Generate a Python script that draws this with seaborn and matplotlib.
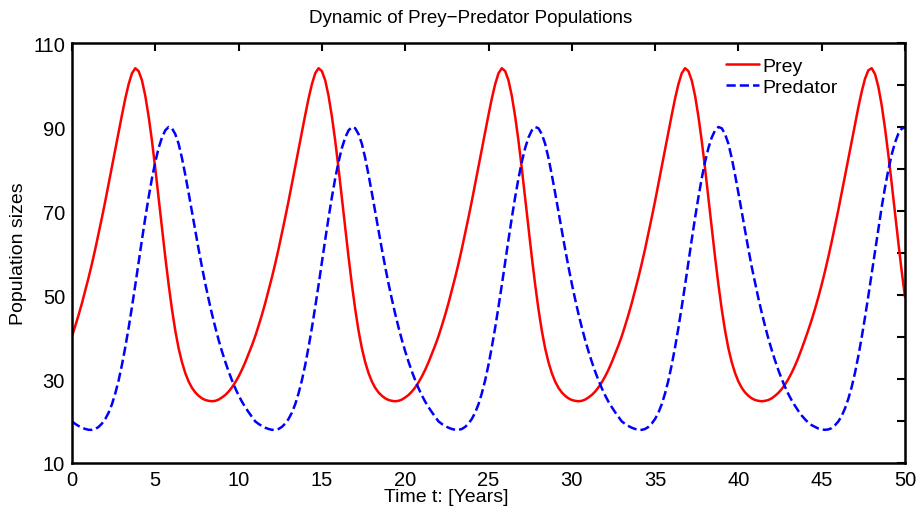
import numpy as np
import pandas as pd
import matplotlib
matplotlib.use("Agg")
import matplotlib.pyplot as plt
import seaborn as sns

# ---- data (t = 0 .. 50 years, step 0.2) ----
years = np.linspace(0, 50, 251)

prey = [
    # cycle 1 (t 0.0 - 10.8)
    40.2, 42.7, 45.3, 48.1, 51.1, 54.2, 57.5, 61.0, 64.7, 68.5,
    72.4, 76.5, 80.6, 84.7, 88.8, 92.9, 96.8, 100.2, 102.8, 104.0,
    103.3, 101.1, 97.4, 92.5, 86.7, 80.1, 73.1, 66.0, 59.0, 52.5,
    46.6, 41.5, 37.3, 34.0, 31.4, 29.4, 27.9, 26.8, 26.0, 25.4,
    25.0, 24.8, 24.7, 24.8, 25.1, 25.6, 26.2, 27.0, 28.0, 29.2,
    30.6, 32.2, 34.0, 36.0, 38.0,
    # cycle 2 (t 11.0 - 21.8)
    40.2, 42.7, 45.3, 48.1, 51.1, 54.2, 57.5, 61.0, 64.7, 68.5,
    72.4, 76.5, 80.6, 84.7, 88.8, 92.9, 96.8, 100.2, 102.8, 104.0,
    103.3, 101.1, 97.4, 92.5, 86.7, 80.1, 73.1, 66.0, 59.0, 52.5,
    46.6, 41.5, 37.3, 34.0, 31.4, 29.4, 27.9, 26.8, 26.0, 25.4,
    25.0, 24.8, 24.7, 24.8, 25.1, 25.6, 26.2, 27.0, 28.0, 29.2,
    30.6, 32.2, 34.0, 36.0, 38.0,
    # cycle 3 (t 22.0 - 32.8)
    40.2, 42.7, 45.3, 48.1, 51.1, 54.2, 57.5, 61.0, 64.7, 68.5,
    72.4, 76.5, 80.6, 84.7, 88.8, 92.9, 96.8, 100.2, 102.8, 104.0,
    103.3, 101.1, 97.4, 92.5, 86.7, 80.1, 73.1, 66.0, 59.0, 52.5,
    46.6, 41.5, 37.3, 34.0, 31.4, 29.4, 27.9, 26.8, 26.0, 25.4,
    25.0, 24.8, 24.7, 24.8, 25.1, 25.6, 26.2, 27.0, 28.0, 29.2,
    30.6, 32.2, 34.0, 36.0, 38.0,
    # cycle 4 (t 33.0 - 43.8)
    40.2, 42.7, 45.3, 48.1, 51.1, 54.2, 57.5, 61.0, 64.7, 68.5,
    72.4, 76.5, 80.6, 84.7, 88.8, 92.9, 96.8, 100.2, 102.8, 104.0,
    103.3, 101.1, 97.4, 92.5, 86.7, 80.1, 73.1, 66.0, 59.0, 52.5,
    46.6, 41.5, 37.3, 34.0, 31.4, 29.4, 27.9, 26.8, 26.0, 25.4,
    25.0, 24.8, 24.7, 24.8, 25.0, 25.4, 26.0, 26.7, 27.6, 28.7,
    30.0, 31.5, 33.2, 35.1, 37.2,
    # cycle 5 (t 44.0 - 50.0)
    39.4, 41.7, 44.1, 46.7, 49.5, 52.5, 55.7, 59.1, 62.7, 66.5,
    70.3, 74.3, 78.4, 82.5, 86.6, 90.7, 94.7, 98.4, 101.5, 103.5,
    104.0, 102.6, 99.6, 95.2, 89.7, 83.4, 76.6, 69.5, 62.5, 55.7,
    49.5,
]

predator = [
    # cycle 1
    19.9, 19.3, 18.8, 18.4, 18.1, 17.9, 17.9, 18.1, 18.6, 19.4,
    20.5, 22.0, 24.0, 26.6, 29.7, 33.4, 37.6, 42.2, 47.2, 52.4,
    57.8, 63.2, 68.4, 73.3, 77.8, 81.7, 85.0, 87.5, 89.2, 90.0,
    89.7, 88.3, 86.0, 82.6, 78.6, 74.3, 69.8, 65.3, 60.9, 56.7,
    52.7, 49.0, 45.5, 42.3, 39.3, 36.6, 34.1, 31.8, 29.7, 27.8,
    26.1, 24.6, 23.3, 22.1, 21.0,
    # cycle 2
    19.9, 19.3, 18.8, 18.4, 18.1, 17.9, 17.9, 18.1, 18.6, 19.4,
    20.5, 22.0, 24.0, 26.6, 29.7, 33.4, 37.6, 42.2, 47.2, 52.4,
    57.8, 63.2, 68.4, 73.3, 77.8, 81.7, 85.0, 87.5, 89.2, 90.0,
    89.7, 88.3, 86.0, 82.6, 78.6, 74.3, 69.8, 65.3, 60.9, 56.7,
    52.7, 49.0, 45.5, 42.3, 39.3, 36.6, 34.1, 31.8, 29.7, 27.8,
    26.1, 24.6, 23.3, 22.1, 21.0,
    # cycle 3
    19.9, 19.3, 18.8, 18.4, 18.1, 17.9, 17.9, 18.1, 18.6, 19.4,
    20.5, 22.0, 24.0, 26.6, 29.7, 33.4, 37.6, 42.2, 47.2, 52.4,
    57.8, 63.2, 68.4, 73.3, 77.8, 81.7, 85.0, 87.5, 89.2, 90.0,
    89.7, 88.3, 86.0, 82.6, 78.6, 74.3, 69.8, 65.3, 60.9, 56.7,
    52.7, 49.0, 45.5, 42.3, 39.3, 36.6, 34.1, 31.8, 29.7, 27.8,
    26.1, 24.6, 23.3, 22.1, 21.0,
    # cycle 4
    19.9, 19.3, 18.8, 18.4, 18.1, 17.9, 17.9, 18.1, 18.6, 19.4,
    20.5, 22.0, 24.0, 26.6, 29.7, 33.4, 37.6, 42.2, 47.2, 52.4,
    57.8, 63.2, 68.4, 73.3, 77.8, 81.7, 85.0, 87.5, 89.2, 90.0,
    89.7, 88.3, 86.0, 82.6, 78.6, 74.3, 69.8, 65.3, 60.9, 56.7,
    52.9, 49.2, 45.8, 42.6, 39.6, 36.9, 34.4, 32.1, 30.0, 28.1,
    26.4, 24.9, 23.6, 22.4, 21.3,
    # cycle 5
    20.4, 19.6, 19.0, 18.6, 18.2, 18.0, 17.9, 18.0, 18.3, 19.0,
    19.9, 21.2, 23.0, 25.3, 28.1, 31.5, 35.5, 39.9, 44.7, 49.8,
    55.1, 60.5, 65.8, 70.9, 75.6, 79.8, 83.4, 86.3, 88.4, 89.6,
    89.9,
]

x_ticks = [0, 5, 10, 15, 20, 25, 30, 35, 40, 45, 50]
y_ticks = [10, 20, 30, 40, 50, 60, 70, 80, 90, 100, 110]
y_tick_labels = ["10", "", "30", "", "50", "", "70", "", "90", "", "110"]

title = "Dynamic of Prey\u2212Predator Populations"
x_label = "Time t: [Years]"
y_label = "Population sizes"

df = pd.DataFrame({"t": years, "Prey": prey, "Predator": predator})

# ---- drawing ----
sns.set_style("white")
plt.rcParams["font.family"] = ["Liberation Sans", "DejaVu Sans"]
plt.rcParams["text.color"] = "black"
plt.rcParams["axes.labelcolor"] = "black"
plt.rcParams["xtick.color"] = "black"
plt.rcParams["ytick.color"] = "black"

fig = plt.figure(figsize=(9.17, 5.10), dpi=100)
ax = fig.add_axes([72 / 917, 46 / 510, 833 / 917, 420 / 510])

sns.lineplot(data=df, x="t", y="Prey", ax=ax, color="#ff0000", lw=1.8,
             label="Prey")
sns.lineplot(data=df, x="t", y="Predator", ax=ax, color="#0000ff", lw=1.8,
             linestyle="--", label="Predator")

ax.set_xlim(0, 50)
ax.set_ylim(10, 110)
ax.set_xticks(x_ticks)
ax.set_xticklabels([str(v) for v in x_ticks])
ax.set_yticks(y_ticks)
ax.set_yticklabels(y_tick_labels)
ax.tick_params(direction="in", length=6, width=1.5, top=True, right=True,
               labelsize=14.5, colors="black", pad=5)
for s in ax.spines.values():
    s.set_visible(True)
    s.set_linewidth(1.8)
    s.set_color("black")

ax.set_title(title, fontsize=13.5, x=0.478, pad=15, color="black")
ax.set_xlabel(x_label, fontsize=14, labelpad=0, color="black")
ax.xaxis.set_label_coords(0.449, -0.060)
ax.set_ylabel(y_label, fontsize=14, color="black")
ax.yaxis.set_label_coords(-0.054, 0.5)

leg = ax.legend(loc="upper left",
                bbox_to_anchor=((726 - 72) / 833, (464 - 58) / 420),
                frameon=False, fontsize=14, handlelength=1.7,
                handletextpad=0.15, labelspacing=0.2, borderpad=0,
                borderaxespad=0)
for txt in leg.get_texts():
    txt.set_color("black")

fig.savefig("out.png", dpi=100, facecolor="white")
